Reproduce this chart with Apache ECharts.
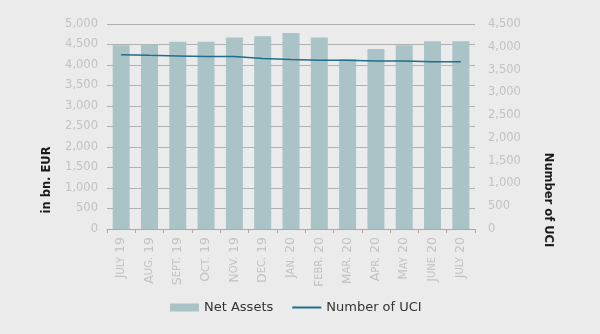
<!DOCTYPE html>
<html><head><meta charset="utf-8">
<script src="https://cdn.jsdelivr.net/npm/echarts@6/dist/echarts.min.js"></script>
<style>html,body{margin:0;padding:0;background:#ebebeb;}#c{width:600px;height:334px;}</style>
</head><body><div id="c"></div>
<script>
const categories = ["July 19","Aug. 19","Sept. 19","Oct. 19","Nov. 19","Dec. 19","Jan. 20","Febr. 20","Mar. 20","Apr. 20","May 20","June 20","July 20"];
const netAssets = [4480, 4500, 4570, 4570, 4670, 4700, 4780, 4670, 4140, 4390, 4480, 4580, 4580];
const numberOfUCI = [3825, 3812, 3800, 3787, 3787, 3740, 3720, 3705, 3705, 3690, 3690, 3670, 3670];
const leftTicks = {min: 0, max: 5000, interval: 500};
const rightTicks = {min: 0, max: 4500, interval: 500};

const chart = echarts.init(document.getElementById('c'));
const labelColor = '#c2c2c2';
const font = 'DejaVu Sans';
function smallCaps(v){
  const parts = v.split(' ');
  const w = parts[0], y = parts[1];
  return '{a|' + w[0] + '}{b|' + w.slice(1).toUpperCase() + '}{a| ' + y + '}';
}
chart.setOption({
  backgroundColor: '#ebebeb',
  animation: false,
  textStyle: {fontFamily: font},
  grid: {left: 107, right: 125, top: 24, bottom: 105},
  legend: {
    bottom: 15, left: 165, itemGap: 18, itemWidth: 29, itemHeight: 8,
    textStyle: {fontFamily: font, fontSize: 13, color: '#333'},
    data: [{name: 'Net Assets', icon: 'rect'}, {name: 'Number of UCI', itemStyle: {opacity: 0}}]
  },
  xAxis: {
    type: 'category', data: categories,
    axisLine: {lineStyle: {color: '#b0a8a0', width: 1}},
    axisTick: {show: true, length: 4, lineStyle: {color: '#b0a8a0'}},
    axisLabel: {
      rotate: 90, interval: 0, margin: 8, color: labelColor,
      formatter: smallCaps,
      rich: {a: {fontSize: 12.5, color: labelColor, fontFamily: font}, b: {fontSize: 10, color: labelColor, fontFamily: font}}
    }
  },
  yAxis: [
    {type: 'value', min: leftTicks.min, max: leftTicks.max, interval: leftTicks.interval,
     axisLine: {show: false}, axisTick: {show: false},
     axisLabel: {color: labelColor, fontSize: 11.5, margin: 9, formatter: v => v.toLocaleString('en-US')},
     splitLine: {lineStyle: {color: '#b0b0b0', width: 1}}},
    {type: 'value', min: rightTicks.min, max: rightTicks.max, interval: rightTicks.interval,
     axisLine: {show: false}, axisTick: {show: false},
     axisLabel: {color: labelColor, fontSize: 11.5, margin: 13, formatter: v => v.toLocaleString('en-US')},
     splitLine: {show: false}}
  ],
  graphic: [
    {type: 'text', x: 47, y: 180, rotation: Math.PI/2,
     style: {text: 'in bn. EUR', font: '600 11.5px "DejaVu Sans"', fill: '#1a1a1a', align: 'center', verticalAlign: 'middle'}},
    {type: 'text', x: 548, y: 200, rotation: -Math.PI/2,
     style: {text: 'Number of UCI', font: '600 11.5px "DejaVu Sans"', fill: '#1a1a1a', align: 'center', verticalAlign: 'middle'}}
  ],
  series: [
    {name: 'Net Assets', type: 'bar', data: netAssets, yAxisIndex: 0, barWidth: '60%',
     itemStyle: {color: '#a9c3c6'}},
    {name: 'Number of UCI', type: 'line', data: numberOfUCI, yAxisIndex: 1,
     symbol: 'none', lineStyle: {color: '#1f6e8c', width: 1.5}, itemStyle: {color: '#1f6e8c'}}
  ]
});
</script></body></html>
